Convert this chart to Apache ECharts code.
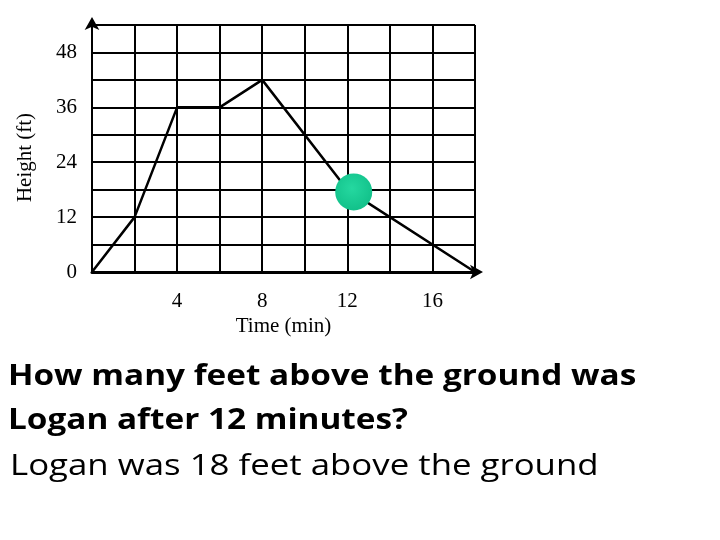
<!DOCTYPE html>
<html>
<head>
<meta charset="utf-8">
<script src="https://cdn.jsdelivr.net/npm/echarts@6/dist/echarts.min.js"></script>
<style>
  html, body { margin: 0; padding: 0; background: #fff; }
  #main { width: 720px; height: 540px; }
</style>
</head>
<body>
<div id="main"></div>
<script>
var timeVals = [0, 2, 4, 6, 8, 12, 18];
var heightVals = [0, 12, 36, 36, 42, 18, 0];
var markerPoint = [12.3, 17.5];
var questionLines = ['How many feet above the ground was', 'Logan after 12 minutes?'];
var answerText = 'Logan was 18 feet above the ground';

var dom = document.getElementById('main');
var myChart = echarts.init(dom);

var lineData = timeVals.map(function (t, i) {
    return [t, heightVals[i]];
});

var serif = '"Liberation Serif", "Times New Roman", serif';

option = {
    animation: false,
    backgroundColor: '#fff',
    grid: {
        left: 92,
        top: 25,
        right: 245,
        bottom: 268,
        containLabel: false,
        outerBoundsMode: 'none'
    },
    xAxis: {
        type: 'value',
        min: 0,
        max: 18,
        interval: 2,
        name: 'Time (min)',
        nameLocation: 'middle',
        nameGap: 44,
        nameTextStyle: { fontFamily: serif, fontSize: 21, color: '#000' },
        axisLine: {
            show: true,
            symbol: ['none', 'arrow'],
            symbolSize: [11, 13],
            symbolOffset: [0, 8],
            lineStyle: { color: '#000', width: 3 }
        },
        axisTick: { show: false },
        axisLabel: {
            margin: 19,
            fontFamily: serif,
            fontSize: 21,
            color: '#000',
            formatter: function (v) {
                return (v % 4 === 0 && v > 0 && v < 18) ? String(v) : '';
            }
        },
        splitLine: { show: true, lineStyle: { color: '#000', width: 2 } }
    },
    yAxis: {
        type: 'value',
        min: 0,
        max: 54,
        interval: 6,
        name: 'Height (ft)',
        nameLocation: 'middle',
        nameGap: 56,
        nameTextStyle: { fontFamily: serif, fontSize: 21, color: '#000', padding: [0, 18, 0, 0] },
        axisLine: {
            show: true,
            symbol: ['none', 'arrow'],
            symbolSize: [11, 13],
            symbolOffset: [0, 8],
            lineStyle: { color: '#000', width: 2 }
        },
        axisTick: { show: false },
        axisLabel: {
            margin: 15,
            fontFamily: serif,
            fontSize: 21,
            color: '#000',
            formatter: function (v) {
                return (v % 12 === 0 && v < 54) ? String(v) : '';
            }
        },
        splitLine: { show: true, lineStyle: { color: '#000', width: 2 } }
    },
    series: [{
        type: 'line',
        data: lineData,
        symbol: 'none',
        lineStyle: { color: '#000', width: 2.5 },
        z: 3
    }, {
        type: 'scatter',
        data: [markerPoint],
        symbolSize: 37,
        itemStyle: {
            opacity: 1,
            color: new echarts.graphic.RadialGradient(0.45, 0.4, 0.65, [
                { offset: 0, color: '#25d8a0' },
                { offset: 1, color: '#10bf88' }
            ])
        },
        z: 5
    }],
    // question text is a bit wider than the available fonts, so stretch it
    graphic: [{
        type: 'text',
        x: 8,
        y: 363,
        scaleX: 1.19,
        style: {
            text: questionLines[0],
            font: 'bold 28px "Open Sans", sans-serif',
            verticalAlign: 'top',
            fill: '#000'
        }
    }, {
        type: 'text',
        x: 8,
        y: 407,
        scaleX: 1.19,
        style: {
            text: questionLines[1],
            font: 'bold 28px "Open Sans", sans-serif',
            verticalAlign: 'top',
            fill: '#000'
        }
    }, {
        type: 'text',
        x: 10,
        y: 452,
        scaleX: 1.2,
        style: {
            text: answerText,
            font: '29px "Open Sans", sans-serif',
            verticalAlign: 'top',
            fill: '#000'
        }
    }]
};

myChart.setOption(option);
</script>
</body>
</html>
